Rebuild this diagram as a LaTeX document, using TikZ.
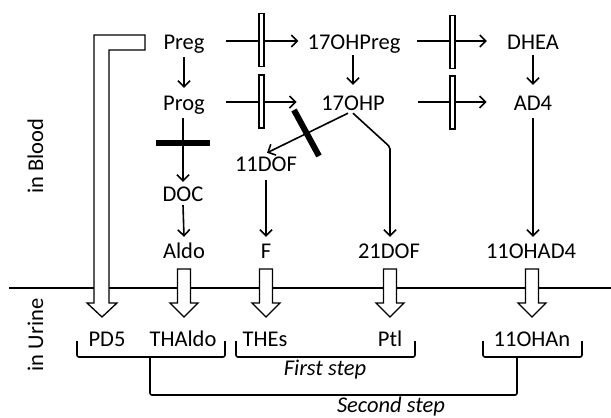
\documentclass[tikz,border=0pt]{standalone}
\usepackage{fontspec}
\setmainfont{Carlito}
\usetikzlibrary{arrows.meta,calc}
\begin{document}
\begin{tikzpicture}[x=1pt,y=-1pt,
  lbl/.style={inner sep=0pt, anchor=base, text height=15pt, text depth=5pt, font=\fontsize{22.5}{27}\selectfont},
  arr/.style={line width=1.6pt, -{Straight Barb[length=6pt,width=12pt,line width=1.6pt]}},
  ln/.style={line width=1.6pt},
  blockbar/.style={draw, fill=white, line width=1.3pt, minimum width=5pt, minimum height=53pt, inner sep=0pt},
  thickbar/.style={line width=6pt},
  hollow/.style={draw, fill=white, line width=1.3pt, line join=miter},
  brk/.style={line width=1.6pt, rounded corners=2pt},
  hdown/.pic={\draw[hollow] (-6.5,0) -- (6.5,0) -- (6.5,34) -- (14,34) -- (0,48) -- (-14,34) -- (-6.5,34) -- cycle;}]
\useasboundingbox (0,0) rectangle (611,418);

% divider
\draw[ln] (9,288) -- (611,288);
\coordinate (utop) at (0,269);

% blood nodes
\node[lbl] (Preg) at (184,49) {Preg};
\node[lbl] (OHPreg) at (354,49) {17OHPreg};
\node[lbl] (DHEA) at (533,49) {DHEA};
\node[lbl] (Prog) at (184,110) {Prog};
\node[lbl] (OHP) at (353,110) {17OHP};
\node[lbl] (AD4) at (533,110) {AD4};
\node[lbl] (DOF11) at (266,171) {11DOF};
\node[lbl] (DOC) at (183,201) {DOC};
\node[lbl] (Aldo) at (184,258) {Aldo};
\node[lbl] (F) at (266,258) {F};
\node[lbl] (DOF21) at (389,258) {21DOF};
\node[lbl] (OHAD4) at (531,258) {11OHAD4};

% urine nodes
\node[lbl] (PD5) at (107,346) {PD5};
\node[lbl] (THAldo) at (183,346) {THAldo};
\node[lbl] (THEs) at (265,346) {THEs};
\node[lbl] (Ptl) at (390,346) {Ptl};
\node[lbl] (OHAn) at (532,346) {11OHAn};

% side labels
\node[lbl, anchor=center, rotate=90] (blood) at (38,156) {in Blood};
\node[lbl, anchor=center, rotate=90] (urine) at (38,335) {in Urine};

% horizontal arrows
\draw[arr] ([shift={(21.5,-8)}]Preg.base east) -- ([shift={(-9,-8)}]OHPreg.base west);
\draw[arr] ([shift={(21.5,-8)}]Prog.base east) -- ([shift={(-24.5,-8)}]OHP.base west);
\draw[arr] ([shift={(16.5,-8)}]OHPreg.base east) -- ([shift={(-20,-8)}]DHEA.base west);
\draw[arr] ([shift={(33.5,-8)}]OHP.base east) -- ([shift={(-27,-8)}]AD4.base west);

% block bars
\node[blockbar] (bar1) at (261.5,40) {};
\node[blockbar] (bar2) at (261.5,101.5) {};
\node[blockbar] (bar3) at (452.5,42) {};
\node[blockbar] (bar4) at (452.5,102.5) {};

% vertical arrows
\draw[arr] ([yshift=-3pt]Preg.south) -- ([yshift=7pt]Prog.north);
\draw[arr] ([shift={(-1,1)}]OHPreg.south) -- ([shift={(0,-10)}]OHP.north);
\draw[arr] ([yshift=-1pt]DHEA.south) -- ([yshift=10pt]AD4.north);
\draw[arr] ([shift={(-1,3)}]Prog.south) -- ([shift={(0,-4)}]DOC.north);
\draw[arr] ([yshift=1pt]DOC.south) -- ([yshift=6pt]Aldo.north);
\draw[arr] ([yshift=-4pt]DOF11.south) -- ([yshift=6pt]F.north);
\draw[arr] ([yshift=-3pt]AD4.south) -- ([shift={(2,-6)}]OHAD4.north);
\draw[arr] ([shift={(-5,-2)}]OHP.south) -- ([shift={(1,-3)}]DOF11.north);
\coordinate (knee) at (390,147);
\draw[arr, rounded corners=2pt] ([shift={(0,-2)}]OHP.south) -- (knee) -- ([shift={(1,-6)}]DOF21.north);

% inhibition bars
\draw[thickbar] (156,143) -- (210,143);
\draw[thickbar] (294,110) -- (319,156);

% hollow arrows blood -> urine
\draw[hollow] (145,35) -- (94,35) -- (94,303) -- (87,303) -- (102,317) -- (117,303) -- (109,303) -- (109,50) -- (145,50) -- cycle;
\pic at (Aldo.south |- utop) {hdown};
\pic at (F.south |- utop) {hdown};
\pic at ([xshift=1pt]DOF21.south |- utop) {hdown};
\pic at ([xshift=1pt]OHAD4.south |- utop) {hdown};

% brackets
\draw[brk] (77,341) -- (77,357) -- (225,357) -- (225,341);
\draw[brk] (236,341) -- (236,357) -- (415,357) -- (415,341);
\draw[brk] (483,341) -- (483,357) -- (582,357) -- (582,341);
\draw[brk] (150,357) -- (150,395) -- (517,395) -- (517,357);
\node[lbl, font=\fontsize{22.5}{27}\selectfont\itshape] (first) at (325,375) {First step};
\node[lbl, font=\fontsize{22.5}{27}\selectfont\itshape] (second) at (391,412) {Second step};
\end{tikzpicture}
\end{document}
